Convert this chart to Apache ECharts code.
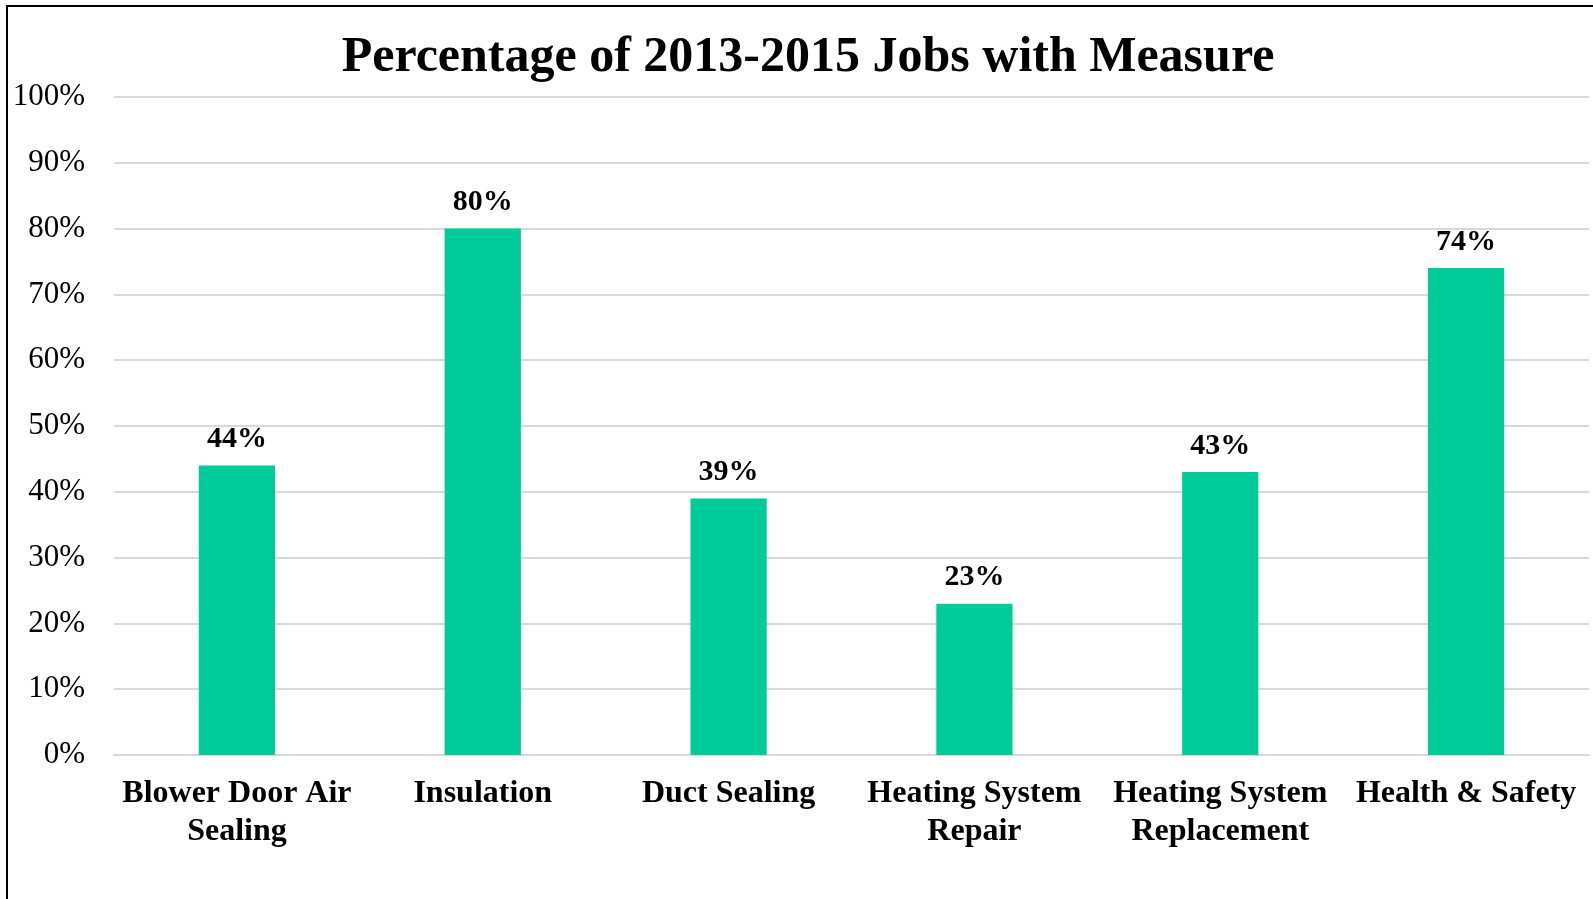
<!DOCTYPE html>
<html>
<head>
<meta charset="utf-8">
<title>Percentage of 2013-2015 Jobs with Measure</title>
<script src="https://cdn.jsdelivr.net/npm/echarts@6/dist/echarts.min.js"></script>
<style>
  html, body { margin: 0; padding: 0; background: #fff; }
  #chart { width: 1593px; height: 899px; }
</style>
</head>
<body>
<div id="chart"></div>
<script>
// Measure categories (line breaks as shown under the axis)
const categories = [
  'Blower Door Air\nSealing',
  'Insulation',
  'Duct Sealing',
  'Heating System\nRepair',
  'Heating System\nReplacement',
  'Health & Safety'
];
// Share of 2013-2015 jobs that included each measure (%)
const shares = [44, 80, 39, 23, 43, 74];
// Value axis ticks (%)
const axisMin = 0;
const axisMax = 100;
const axisStep = 10;

const serif = "'Liberation Serif', 'Times New Roman', serif";
const chart = echarts.init(document.getElementById('chart'), null, { renderer: 'canvas' });

chart.setOption({
  backgroundColor: '#ffffff',
  animation: false,
  title: {
    text: 'Percentage of 2013-2015 Jobs with Measure',
    left: 803,
    textAlign: 'center',
    top: 28,
    textStyle: { fontFamily: serif, fontWeight: 'bold', fontSize: 50, color: '#000' }
  },
  graphic: [{
    type: 'rect',
    shape: { x: 7, y: 6, width: 1620, height: 920 },
    style: { fill: 'none', stroke: '#000', lineWidth: 2 },
    silent: true,
    z: 100
  }],
  grid: { left: 114, right: 4, top: 97, bottom: 144, containLabel: false },
  xAxis: {
    type: 'category',
    data: categories,
    axisLine: { show: true, lineStyle: { color: '#d9d9d9', width: 2 } },
    axisTick: { show: false },
    axisLabel: {
      interval: 0,
      margin: 20,
      fontFamily: serif,
      fontWeight: 'bold',
      fontSize: 32,
      lineHeight: 38,
      color: '#000'
    }
  },
  yAxis: {
    type: 'value',
    min: axisMin,
    max: axisMax,
    interval: axisStep,
    axisLine: { show: false },
    axisTick: { show: false },
    splitLine: { lineStyle: { color: '#d9d9d9', width: 2 } },
    axisLabel: {
      margin: 29,
      fontFamily: serif,
      fontSize: 31,
      color: '#000',
      padding: [4, 0, 0, 0],
      formatter: v => v + '%'
    }
  },
  series: [{
    type: 'bar',
    data: shares,
    barWidth: '31%',
    itemStyle: { color: '#00cc99' },
    label: {
      show: true,
      position: 'top',
      distance: 11,
      fontFamily: serif,
      fontWeight: 'bold',
      fontSize: 30,
      color: '#000',
      formatter: p => p.value + '%'
    }
  }]
});
</script>
</body>
</html>
